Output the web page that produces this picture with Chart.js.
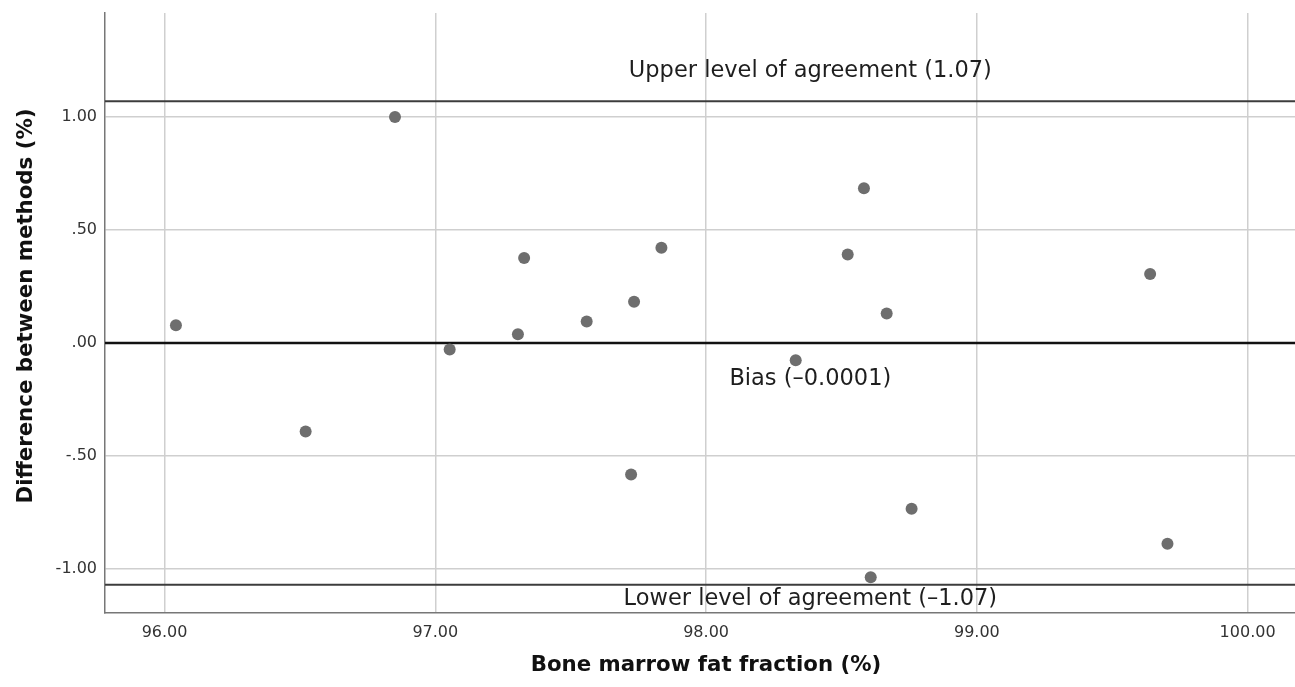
<!DOCTYPE html>
<html>
<head>
<meta charset="utf-8">
<script src="https://cdn.jsdelivr.net/npm/chart.js@4"></script>
<style>
  html, body { margin: 0; padding: 0; background: #fff; }
  canvas { display: block; }
</style>
</head>
<body>
<canvas id="c" width="1295" height="687"></canvas>
<script>
// ---- Data ----
const meanValues = [96.042, 96.521, 96.851, 97.053, 97.305, 97.328, 97.559, 97.734, 97.723, 97.835,
                    98.331, 98.523, 98.583, 98.667, 98.608, 98.759, 99.640, 99.704];
const diffValues = [0.079, -0.392, 1.001, -0.029, 0.039, 0.376, 0.095, 0.183, -0.582, 0.422,
                    -0.076, 0.392, 0.685, 0.131, -1.037, -0.733, 0.306, -0.888];
const upperLoA = 1.07;
const lowerLoA = -1.07;
const biasValue = -0.0001;
const xTicks = [96, 97, 98, 99, 100];
const yTicks = [-1, -0.5, 0, 0.5, 1];
const xRange = [95.78, 100.175];
const yRange = [-1.195, 1.461];
const labelX = 98.385;
const labels = {
  upper: 'Upper level of agreement (1.07)',
  bias: 'Bias (\u20130.0001)',
  lower: 'Lower level of agreement (\u20131.07)'
};
const xTitle = 'Bone marrow fat fraction (%)';
const yTitle = 'Difference between methods (%)';

const FONT = '"DejaVu Sans", "Noto Sans", sans-serif';

function fmtY(v) {
  let s = Math.abs(v).toFixed(2);
  if (s.startsWith('0')) s = s.slice(1);
  return (v < 0 ? '-' : '') + s;
}

const hLine = (y, color, width) => ({
  type: 'line',
  data: [{ x: xRange[0], y: y }, { x: xRange[1], y: y }],
  borderColor: color,
  borderWidth: width,
  pointRadius: 0,
  fill: false
});

const textPlugin = {
  id: 'texts',
  afterDatasetsDraw(chart) {
    const ctx = chart.ctx;
    const xs = chart.scales.x, ys = chart.scales.y;
    const cx = xs.getPixelForValue(labelX);
    ctx.save();
    ctx.fillStyle = '#1e1e1e';
    ctx.font = '22.5px ' + FONT;
    ctx.textAlign = 'center';
    ctx.textBaseline = 'middle';
    ctx.fillText(labels.upper, cx, ys.getPixelForValue(upperLoA) - 30);
    ctx.fillText(labels.bias, cx, ys.getPixelForValue(biasValue) + 36);
    ctx.fillText(labels.lower, cx, ys.getPixelForValue(lowerLoA) + 14);
    ctx.restore();
  },
  afterDraw(chart) {
    const ctx = chart.ctx;
    ctx.save();
    ctx.fillStyle = '#111';
    ctx.font = 'bold 21.3px ' + FONT;
    ctx.textAlign = 'center';
    ctx.textBaseline = 'middle';
    ctx.fillText(xTitle, 706, 665);
    ctx.translate(26, 306);
    ctx.rotate(-Math.PI / 2);
    ctx.fillText(yTitle, 0, 0);
    ctx.restore();
  }
};

new Chart(document.getElementById('c'), {
  data: {
    datasets: [
      {
        type: 'scatter',
        data: meanValues.map((x, i) => ({ x: x, y: diffValues[i] })),
        backgroundColor: '#6e6e6e',
        borderWidth: 0,
        pointRadius: 6,
        pointHoverRadius: 6
      },
      hLine(upperLoA, '#3c3c3c', 2),
      hLine(lowerLoA, '#3c3c3c', 2),
      hLine(biasValue, '#111111', 2.5)
    ]
  },
  options: {
    responsive: false,
    animation: false,
    events: [],
    layout: { autoPadding: false, padding: { top: 13, right: 0, left: 0, bottom: 0 } },
    plugins: { legend: { display: false }, tooltip: { enabled: false } },
    scales: {
      x: {
        type: 'linear',
        min: xRange[0],
        max: xRange[1],
        afterBuildTicks: s => { s.ticks = xTicks.map(v => ({ value: v })); },
        afterFit: s => { s.height = 74; s.paddingLeft = 0; s.paddingRight = 0; },
        ticks: {
          font: { family: FONT, size: 16 },
          color: '#333',
          padding: 10,
          callback: v => Number(v).toFixed(2)
        },
        grid: { color: '#cfcfcf', lineWidth: 1.5, drawTicks: false },
        border: { color: '#777', width: 1.5 }
      },
      y: {
        type: 'linear',
        min: yRange[0],
        max: yRange[1],
        afterBuildTicks: s => { s.ticks = yTicks.map(v => ({ value: v })); },
        afterFit: s => { s.width = 105; s.paddingTop = 0; s.paddingBottom = 0; },
        ticks: {
          font: { family: FONT, size: 16 },
          color: '#333',
          padding: 8,
          callback: v => fmtY(v)
        },
        grid: { color: '#cfcfcf', lineWidth: 1.5, drawTicks: false },
        border: { color: '#777', width: 1.5 }
      }
    }
  },
  plugins: [textPlugin]
});
</script>
</body>
</html>
